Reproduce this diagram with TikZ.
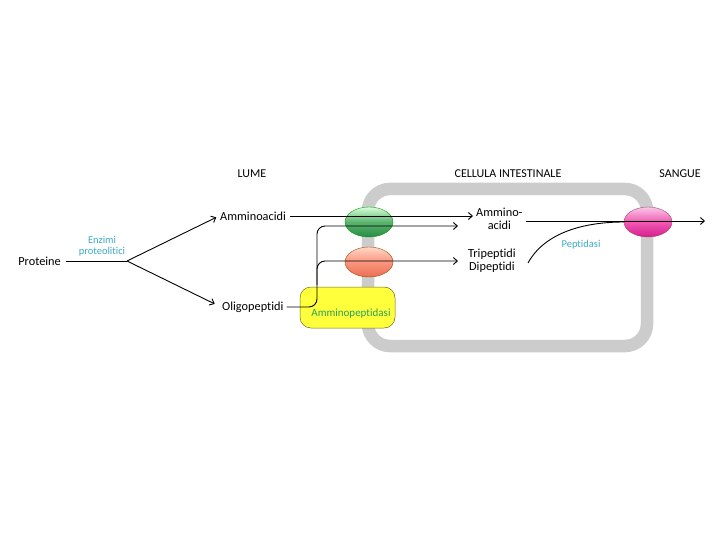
\documentclass[tikz,border=0pt]{standalone}
\usepackage{fontspec}
\setmainfont{Carlito}[Ligatures={NoCommon}]
\usetikzlibrary{arrows.meta,shapes.geometric}
\definecolor{cyantext}{RGB}{60,170,200}
\definecolor{framegray}{RGB}{204,204,204}
\definecolor{boxyellow}{RGB}{255,255,60}
\definecolor{boxedge}{RGB}{110,110,30}
\definecolor{amptext}{RGB}{40,160,90}
\tikzset{
  lbl/.style={font=\fontsize{12.3}{13}\selectfont, inner sep=1pt, align=center},
  enz/.style={font=\fontsize{10.5}{11.5}\selectfont, text=cyantext, inner sep=1pt, align=center},
  head/.style={font=\fontsize{12}{13}\selectfont, inner sep=1pt},
  conn/.style={line width=0.9pt, -{Straight Barb[length=4pt,width=7pt]}},
  plain/.style={line width=0.9pt},
  carrier/.style={ellipse, minimum width=48pt, minimum height=30pt, inner sep=0pt, draw=#1!60!black, line width=0.4pt},
}
\begin{document}
\begin{tikzpicture}[x=1pt,y=-1pt]
\useasboundingbox (0,0) rectangle (720,540);
\fill[white] (0,0) rectangle (720,540);
% headers
\node[head] (lume) at (252,174) {LUME};
\node[head] (cell) at (508,174) {CELLULA INTESTINALE};
\node[head] (sangue) at (680,174) {SANGUE};
% cell frame
\draw[framegray, line width=12.5pt, rounded corners=22pt] (368,189) rectangle (647,346);
% yellow box
\node[draw=boxedge, fill=boxyellow, rounded corners=11pt, line width=0.5pt, minimum width=95pt, minimum height=41pt, inner sep=0pt] (amp) at (347.5,307.5) {};
\node[font=\fontsize{11}{12}\selectfont, text=amptext] (amptxt) at (351,314) {Amminopeptidasi};
% carriers
\node[carrier=green, top color=green!15!white, bottom color={rgb,255:red,40;green,140;blue,70}, middle color={rgb,255:red,90;green,180;blue,110}] (gre) at (369,222) {};
\node[carrier=orange, top color={rgb,255:red,255;green,215;blue,200}, bottom color={rgb,255:red,235;green,110;blue,85}, middle color={rgb,255:red,250;green,150;blue,125}] (sal) at (369,262) {};
\node[carrier=magenta, top color={rgb,255:red,250;green,200;blue,230}, bottom color={rgb,255:red,215;green,30;blue,140}, middle color={rgb,255:red,240;green,90;blue,180}] (pink) at (648,222) {};
% texts
\node[lbl, anchor=east] (prot) at (62,261) {Proteine};
\node[enz] (enzimi) at (102,246) {Enzimi\\[-1pt]proteolitici};
\node[lbl, anchor=west] (aa) at (219,216) {Amminoacidi};
\node[lbl, anchor=west] (oligo) at (221,307) {Oligopeptidi};
\node[lbl, anchor=west] (aa2) at (475,219) {Ammino-\\acidi};
\node[lbl, anchor=west] (tri) at (467,261) {Tripeptidi\\Dipeptidi};
\node[enz] (pept) at (581,245) {Peptidasi};
% coordinates
\coordinate (split) at (127,261);
\coordinate (bend) at (317,307);
\coordinate (tipA) at (458,226);
\coordinate (tipB) at (458,261);
\coordinate (out) at (705,221);
\coordinate (pstart) at (528,263);
% connectors
\draw[plain] (prot.east) ++(4,0) -- (split);
\draw[conn, shorten >=3pt] (split) -- (aa.west);
\draw[conn, shorten >=7pt] (split) -- (oligo.west);
\draw[conn, shorten <=3pt, shorten >=2pt] (aa.east) -- (aa.east -| aa2.west);
\draw[conn, rounded corners=8pt] (oligo.east) ++(2,0) -- (bend) -- (bend |- tipA) -- (tipA);
\draw[conn, rounded corners=8pt] (317,285) -- (bend |- tipB) -- (tipB);
\draw[conn] (aa2.east |- out) ++(2,0) -- (out);
\draw[plain] (pstart) .. controls (545,232) and (585,222) .. (pink.west);
\end{tikzpicture}
\end{document}
